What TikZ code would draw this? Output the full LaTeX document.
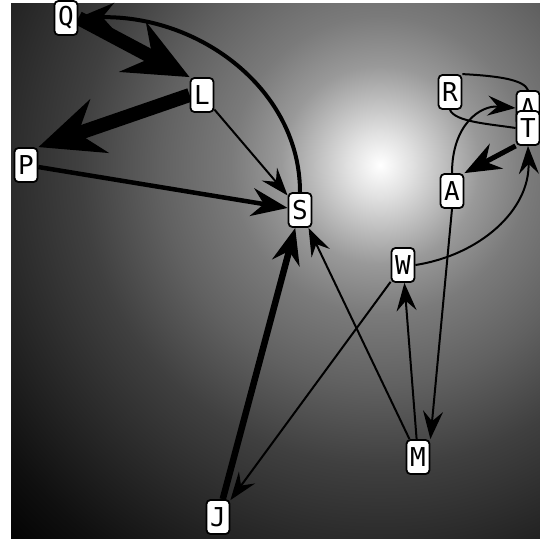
\documentclass[tikz,border=0pt]{standalone}
\usepackage{fontspec}
\newfontfamily\boxfont{DejaVu Sans Mono}
\usetikzlibrary{arrows.meta,positioning}
\pgfdeclarelayer{bg}
\pgfdeclarelayer{edges}
\pgfsetlayers{bg,edges,main}
\pgfdeclareradialshading{myshade}{\pgfpoint{0bp}{0bp}}{%
  color(0bp)=(white); color(1.5bp)=(black!12); color(4.6bp)=(black!40);
  color(6.9bp)=(black!52); color(10.2bp)=(black!62); color(13.9bp)=(black!75);
  color(18.5bp)=(black!86); color(21.8bp)=(black!94); color(25bp)=(black);
  color(50bp)=(black)}

\begin{document}
\begin{tikzpicture}[
  x=1pt, y=-1pt,
  mybox/.style={
    draw,
    line width=1.8pt,
    fill=white,
    rounded corners=4pt,
    minimum width=23pt,
    minimum height=34pt,
    inner sep=1pt,
    font=\boxfont\fontsize{26}{26}\selectfont
    },
  thinedge/.style={line width=2pt, -{Stealth[length=28pt,width=20pt,inset=10pt]}},
  midedge/.style={line width=4.5pt, -{Stealth[length=36pt,width=28pt,inset=12pt]}},
  fatedge/.style={line width=14pt, -{Stealth[length=64pt,width=56pt,inset=22pt]}},
  plainedge/.style={line width=2pt}
]
\useasboundingbox (0,0) rectangle (540,538);
\begin{pgfonlayer}{bg}
  \begin{scope}
    \clip (11,3) rectangle (540,538);
    \shade[shading=myshade] (380,165) circle (540);
  \end{scope}
\end{pgfonlayer}

\node [mybox] (Q) at (66,18) {Q};
\node [mybox] (L) at (202,95) {L};
\node [mybox] (P) at (26,165) {P};
\node [mybox] (S) at (300,210) {S};
\node [mybox] (R) at (450,92) {R};
\node [mybox] (H) at (528,108) {A};
\node [mybox] (T) at (528,128) {T};
\node [mybox] (A) at (452,191) {A};
\node [mybox] (W) at (403,265) {W};
\node [mybox] (M) at (418,457) {M};
\node [mybox] (J) at (218,517) {J};

\begin{pgfonlayer}{edges}
  \draw [fatedge] (Q.east) -- (L.north west);
  \draw [fatedge] (L.west) -- (P.north east);
  \draw [thinedge] (L) -- (S);
  \draw [midedge] (P) -- (S);
  \draw [midedge, line width=4pt] (S.north) .. controls (300,90) and (200,15) .. (Q);
  \draw [midedge, line width=6.5pt] (J) -- (S);
  \draw [thinedge] (M) -- (S);
  \draw [thinedge] (W) -- (J);
  \draw [thinedge] (M) -- (W);
  \draw [thinedge] (A.south) -- (M.north east);
  \draw [thinedge] (W.east) .. controls (480,255) and (530,210) .. (T.south);
  \draw [midedge, line width=5pt] (T.south west) -- (A.north east);
  \draw [thinedge] (A.north) .. controls (452,125) and (480,105) .. (H.west);
  \draw [plainedge] (R.north east) .. controls (500,76) and (524,80) .. (H.north);
  \draw [plainedge] (R.south) .. controls (455,122) and (490,124) .. (T.west);
\end{pgfonlayer}

\end{tikzpicture}
\end{document}
